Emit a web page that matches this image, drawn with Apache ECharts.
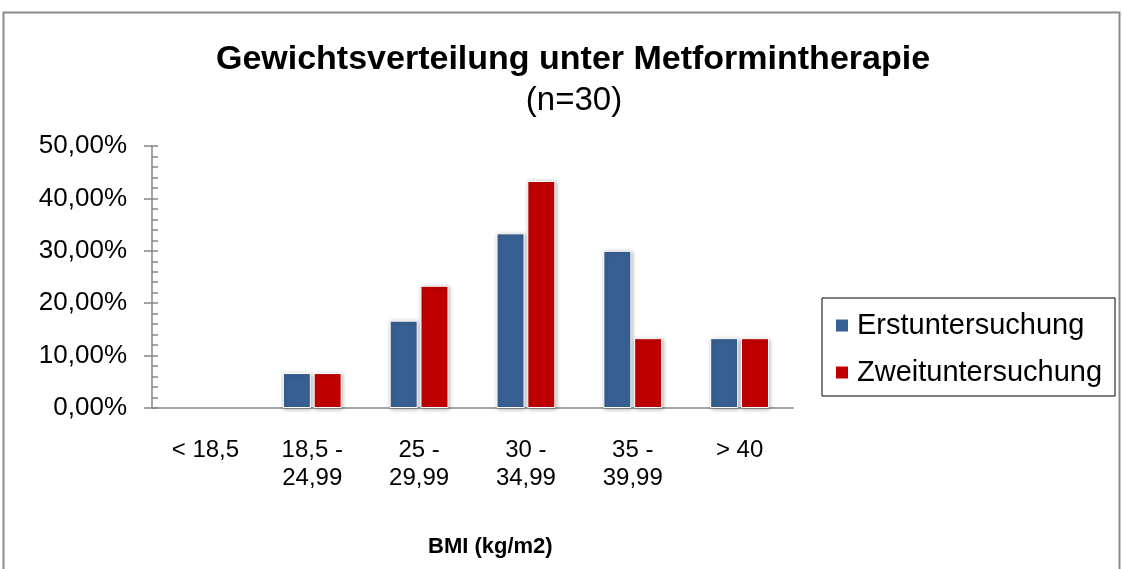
<!DOCTYPE html>
<html>
<head>
<meta charset="utf-8">
<script src="https://cdn.jsdelivr.net/npm/echarts@6/dist/echarts.min.js"></script>
<style>
html,body{margin:0;padding:0;background:#fff;}
#c{width:1123px;height:569px;}
</style>
</head>
<body>
<div id="c"></div>
<script>
const categories = ['< 18,5', '18,5 -\n24,99', '25 -\n29,99', '30 -\n34,99', '35 -\n39,99', '> 40'];
const erstuntersuchung = [0, 6.67, 16.67, 33.33, 30, 13.33];
const zweituntersuchung = [0, 6.67, 23.33, 43.33, 13.33, 13.33];
const seriesNames = ['Erstuntersuchung', 'Zweituntersuchung'];
const titleText = 'Gewichtsverteilung unter Metformintherapie';
const subtitleText = '(n=30)';
const xAxisTitle = 'BMI (kg/m2)';

const FONT = '"Liberation Sans", Arial, sans-serif';
const axisGray = '#868686';
const chart = echarts.init(document.getElementById('c'));
const barStyle = (color) => ({
  color: color,
  borderColor: '#ffffff',
  borderWidth: 1,
  shadowColor: 'rgba(0,0,0,0.3)',
  shadowBlur: 4,
  shadowOffsetX: 1,
  shadowOffsetY: 1
});
const toBarData = (arr) => arr.map(v => v === 0
  ? { value: v, itemStyle: { opacity: 0, borderWidth: 0, shadowBlur: 0 } }
  : v);
chart.setOption({
  animation: false,
  backgroundColor: '#ffffff',
  title: [{
    text: titleText,
    left: 568,
    top: 38,
    textAlign: 'center',
    textStyle: { fontFamily: FONT, fontSize: 34, fontWeight: 'bold', color: '#000' }
  }, {
    text: subtitleText,
    left: 569,
    top: 79,
    textAlign: 'center',
    textStyle: { fontFamily: FONT, fontSize: 33, fontWeight: 'normal', color: '#000' }
  }],
  legend: {
    orient: 'vertical',
    left: 822,
    top: 298,
    padding: [13, 13, 9, 12],
    itemGap: 18,
    itemWidth: 14,
    itemHeight: 14,
    icon: 'rect',
    borderColor: '#000',
    borderWidth: 1,
    textStyle: { fontFamily: FONT, fontSize: 29, color: '#000', padding: [0, 0, 0, 3] },
    data: seriesNames
  },
  grid: { left: 152, right: 330, top: 146, bottom: 161, containLabel: false },
  xAxis: {
    type: 'category',
    data: categories,
    axisLine: { lineStyle: { color: axisGray, width: 1.5 } },
    axisTick: { alignWithLabel: true, length: 8, lineStyle: { color: axisGray, width: 1.5 } },
    axisLabel: { fontFamily: FONT, fontSize: 24, color: '#000', margin: 28, lineHeight: 28 }
  },
  yAxis: [{
    type: 'value',
    min: 0, max: 50, interval: 10,
    axisLine: { show: true, lineStyle: { color: axisGray, width: 1.5 } },
    axisTick: { show: true, length: 8, lineStyle: { color: axisGray, width: 1.5 } },
    splitLine: { show: false },
    axisLabel: {
      fontFamily: FONT, fontSize: 26, color: '#000', margin: 25,
      formatter: (v) => v.toFixed(2).replace('.', ',') + '%'
    }
  }, {
    type: 'value',
    position: 'left',
    min: 0, max: 50, interval: 10,
    axisLine: { show: false },
    axisTick: { show: true, inside: true, length: 6, lineStyle: { color: axisGray, width: 1.5 } },
    minorTick: { show: true, splitNumber: 5, length: 6, lineStyle: { color: axisGray, width: 1.5 } },
    splitLine: { show: false },
    axisLabel: { show: false }
  }],
  graphic: [
    {
      type: 'rect',
      shape: { x: 3.5, y: 12.5, width: 1116, height: 580 },
      style: { fill: 'none', stroke: '#8c8c8c', lineWidth: 2 },
      silent: true
    },
    {
      type: 'text',
      left: 428,
      top: 536,
      style: { text: xAxisTitle, font: 'bold 22px ' + FONT, fill: '#000' }
    }
  ],
  series: [
    { name: seriesNames[0], type: 'bar', data: toBarData(erstuntersuchung), barWidth: 28, barGap: '10%', itemStyle: barStyle('#376092') },
    { name: seriesNames[1], type: 'bar', data: toBarData(zweituntersuchung), barWidth: 28, barGap: '10%', itemStyle: barStyle('#C00000') }
  ]
});
</script>
</body>
</html>
